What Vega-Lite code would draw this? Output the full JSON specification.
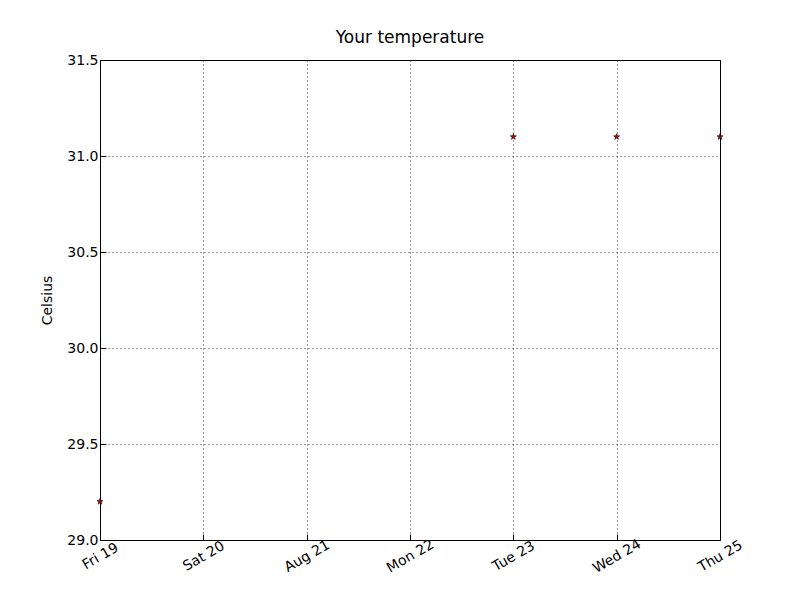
{
  "$schema": "https://vega.github.io/schema/vega-lite/v6.json",
  "width": 620,
  "height": 480,
  "autosize": {"type": "none"},
  "padding": {"left": 100, "top": 60, "right": 80, "bottom": 60},
  "background": "white",
  "title": {"text": "Your temperature", "font": "DejaVu Sans", "fontSize": 17, "fontWeight": "normal", "offset": 6, "anchor": "middle", "frame": "group"},
  "config": {
    "view": {"stroke": "black", "strokeWidth": 1},
    "axis": {
      "labelFont": "DejaVu Sans", "labelFontSize": 14, "labelColor": "black",
      "titleFont": "DejaVu Sans", "titleFontSize": 14, "titleFontWeight": "normal", "titleColor": "black",
      "grid": true, "gridColor": "black", "gridDash": [1, 3], "gridOpacity": 0.8,
      "domain": false, "tickColor": "black", "tickSize": -6, "labelPadding": 14
    }
  },
  "data": {
    "values": [
      {"date": "2016-08-19T00:00:00Z", "temp": 29.2},
      {"date": "2016-08-23T00:00:00Z", "temp": 31.1},
      {"date": "2016-08-24T00:00:00Z", "temp": 31.1},
      {"date": "2016-08-25T00:00:00Z", "temp": 31.1}
    ]
  },
  "mark": {
    "type": "point",
    "filled": true,
    "clip": false,
    "shape": "M0,-1L0.22,-0.31L0.95,-0.31L0.36,0.12L0.59,0.81L0,0.38L-0.59,0.81L-0.36,0.12L-0.95,-0.31L-0.22,-0.31Z",
    "size": 40,
    "color": "#cc0000",
    "stroke": "black",
    "strokeWidth": 0.6,
    "opacity": 1
  },
  "encoding": {
    "x": {
      "field": "date", "type": "temporal", "title": null,
      "scale": {"type": "utc", "domain": [{"year": 2016, "month": 8, "date": 19, "utc": true}, {"year": 2016, "month": 8, "date": 25, "utc": true}]},
      "axis": {
        "format": "%b %d %Y", "formatType": "utc", "labelAngle": -30, "labelAlign": "center", "labelBaseline": "middle", "labelPadding": 22,
        "values": [
          {"year": 2016, "month": 8, "date": 19, "utc": true},
          {"year": 2016, "month": 8, "date": 20, "utc": true},
          {"year": 2016, "month": 8, "date": 21, "utc": true},
          {"year": 2016, "month": 8, "date": 22, "utc": true},
          {"year": 2016, "month": 8, "date": 23, "utc": true},
          {"year": 2016, "month": 8, "date": 24, "utc": true},
          {"year": 2016, "month": 8, "date": 25, "utc": true}
        ]
      }
    },
    "y": {
      "field": "temp", "type": "quantitative", "title": "Celsius",
      "scale": {"domain": [29, 31.5], "zero": false, "nice": false},
      "axis": {"values": [29, 29.5, 30, 30.5, 31, 31.5], "format": ".1f", "labelPadding": 8, "titlePadding": 12}
    }
  }
}
